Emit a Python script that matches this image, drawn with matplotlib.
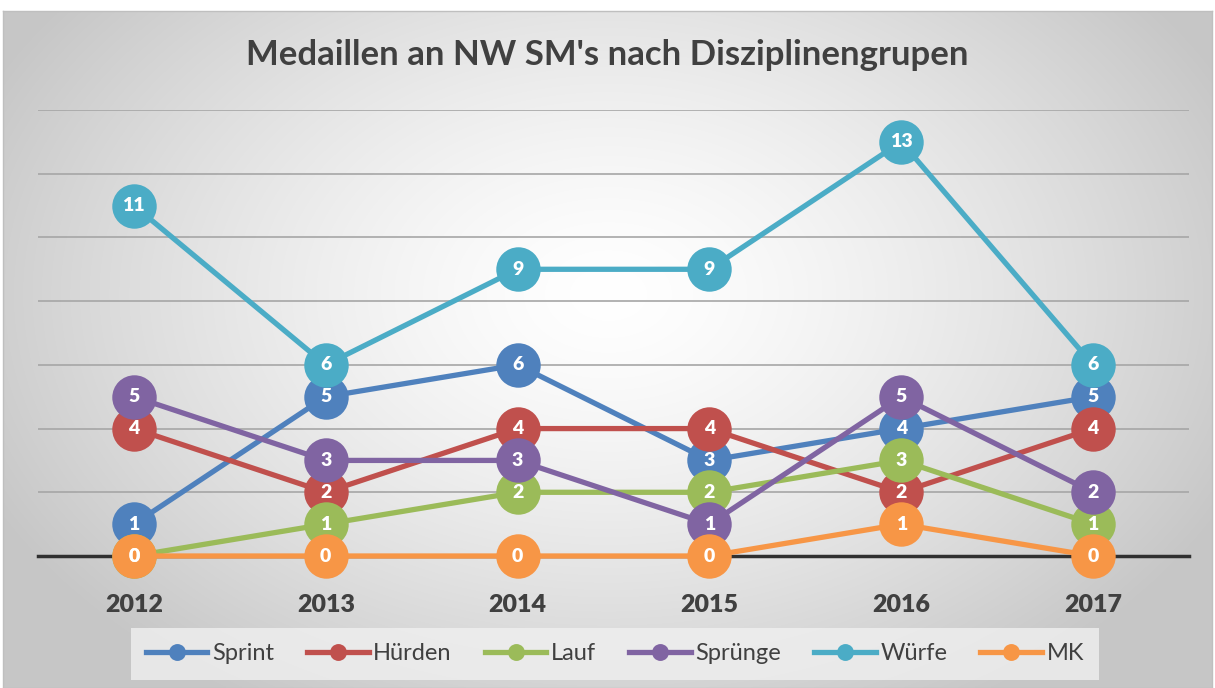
import numpy as np
import matplotlib.pyplot as plt

# ============================================================
#   DATA
# ============================================================
years = ["2012", "2013", "2014", "2015", "2016", "2017"]
sprint = [1, 5, 6, 3, 4, 5]
huerden = [4, 2, 4, 4, 2, 4]
lauf = [0, 1, 2, 2, 3, 1]
spruenge = [5, 3, 3, 1, 5, 2]
wuerfe = [11, 6, 9, 9, 13, 6]
mk = [0, 0, 0, 0, 1, 0]

series_names = ["Sprint", "Hürden", "Lauf", "Sprünge", "Würfe", "MK"]
series_values = [sprint, huerden, lauf, spruenge, wuerfe, mk]
colors = ["#4f81bd", "#c0504d", "#9bbb59", "#8064a2", "#4bacc6", "#f79646"]

plt.rcParams["font.family"] = ["Lato", "DejaVu Sans"]
text_col = "#404040"

fig = plt.figure(figsize=(12.15, 6.88), dpi=100)

# ============================================================
#   RADIAL GRADIENT BACKGROUND
# ============================================================
W, H = 1215, 688
bg = fig.add_axes([3 / W, 0, 1209 / W, (H - 11) / H], zorder=-10)
yy, xx = np.mgrid[0:300, 0:600]
cx, cy = 300, 125
d = np.sqrt(((xx - cx) / 340.0) ** 2 + ((yy - cy) / 210.0) ** 2)
d = np.clip(d, 0, 1)
shade = 1.0 - 0.22 * d ** 1.4
bg.imshow(np.dstack([shade, shade, shade]), aspect="auto",
          extent=[0, 1, 0, 1], interpolation="bilinear")
bg.set_xlim(0, 1)
bg.set_ylim(0, 1)
for s in bg.spines.values():
    s.set_color("#bfbfbf")
    s.set_linewidth(1)
bg.set_xticks([])
bg.set_yticks([])

# ============================================================
#   MAIN AXES
# ============================================================
ax = fig.add_axes([38 / W, (H - 556) / H, (1189 - 38) / W, (556 - 110) / H])
ax.patch.set_alpha(0)
x = np.arange(len(years))

for i, (name, vals, col) in enumerate(zip(series_names, series_values, colors)):
    ax.plot(x, vals, color=col, lw=3.8, marker="o", markersize=32,
            markeredgewidth=0, label=name, zorder=5 + i, clip_on=False)
    for xi, v in zip(x, vals):
        ax.text(xi, v, str(v), color="white", fontsize=14, fontweight="heavy",
                ha="center", va="center", zorder=20)

ax.set_xlim(-0.5, len(years) - 0.5)
ax.set_ylim(0, 14)
ax.set_yticks(np.arange(0, 15, 2))
ax.yaxis.grid(True, color="#a6a6a6", lw=1.2)
ax.set_axisbelow(True)
ax.tick_params(axis="y", length=0, labelleft=False)
ax.set_xticks(x)
ax.set_xticklabels(years, fontsize=18, fontweight="heavy", color=text_col)
ax.tick_params(axis="x", length=0, pad=27)
for s in ["top", "right", "left"]:
    ax.spines[s].set_visible(False)
ax.spines["bottom"].set_color("#303030")
ax.spines["bottom"].set_linewidth(2.5)
ax.spines["bottom"].set_zorder(4)

fig.text(0.5, (H - 55) / H, "Medaillen an NW SM's nach Disziplinengrupen",
         ha="center", va="center", fontsize=25, fontweight="bold", color=text_col)

leg = fig.legend(loc="center", bbox_to_anchor=(615 / W, (H - 654) / H), ncol=6,
                 frameon=True, fontsize=17, markerscale=0.38, handlelength=2.6,
                 columnspacing=1.4, handletextpad=0.2, borderpad=0.35)
leg.get_frame().set_facecolor("#f0f0f0")
leg.get_frame().set_edgecolor("none")
leg.get_frame().set_boxstyle("square")
for t in leg.get_texts():
    t.set_color(text_col)

fig.savefig("out.png", dpi=100)
